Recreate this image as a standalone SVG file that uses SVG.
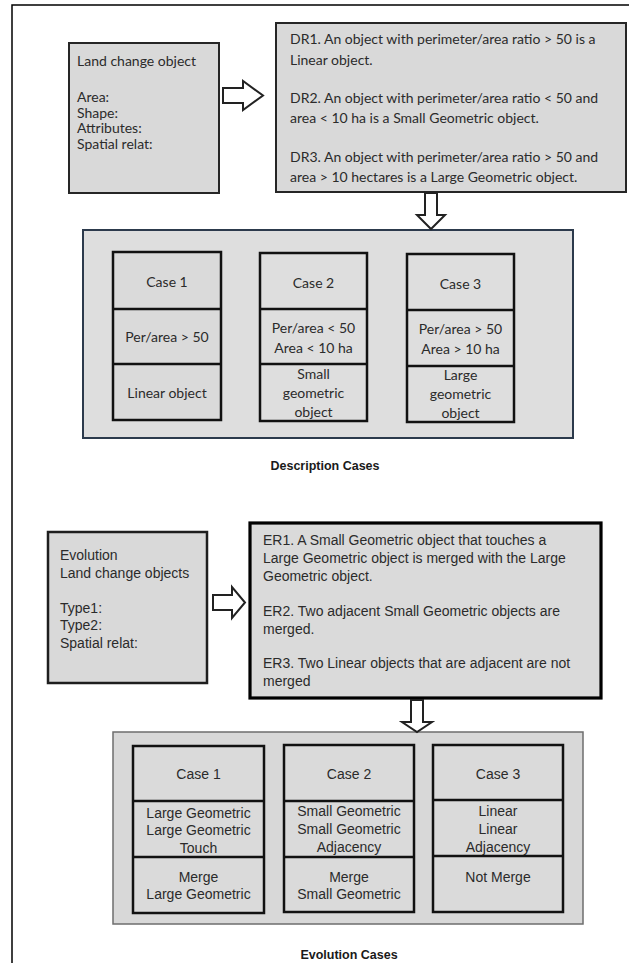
<svg xmlns="http://www.w3.org/2000/svg" width="629" height="963" viewBox="0 0 629 963">
<style>
.cal{font-family:Lato,"Open Sans","Liberation Sans",sans-serif;font-size:14px;fill:#2b2b2b}
.ar{font-family:"Liberation Sans",Arial,sans-serif;font-size:14px;fill:#2b2b2b}
.mid{text-anchor:middle}
.cap{font-family:"Liberation Sans",Arial,sans-serif;font-weight:bold;font-size:12.5px;fill:#1a1a1a;text-anchor:middle}
.box{fill:#d9d9d9;stroke:#262626;stroke-width:2}
.cbox{fill:#dadada;stroke:#111;stroke-width:2.5}
.div{stroke:#111;stroke-width:2.5}
.arrow{fill:#fff;stroke:#222;stroke-width:2;stroke-linejoin:miter}
</style>
<rect x="0" y="0" width="629" height="963" fill="#fff"/>
<path d="M12,963 V5 H629" fill="none" stroke="#000" stroke-width="1.5"/>

<g id="land-change-object">
<rect class="box" x="69" y="43" width="150" height="150"/>
<text class="cal" x="77" y="66">Land change object</text>
<text class="cal" x="77" y="102">Area:</text>
<text class="cal" x="77" y="117.5">Shape:</text>
<text class="cal" x="77" y="133">Attributes:</text>
<text class="cal" x="77" y="148.5">Spatial relat:</text>
</g>

<g id="description-rules">
<rect class="box" x="276" y="23" width="350" height="169"/>
<text class="cal" x="290" y="44">DR1. An object with perimeter/area ratio &gt; 50 is a</text>
<text class="cal" x="290" y="65">Linear object.</text>
<text class="cal" x="290" y="103">DR2. An object with perimeter/area ratio &lt;  50 and</text>
<text class="cal" x="290" y="123">area &lt; 10 ha is a Small Geometric object.</text>
<text class="cal" x="290" y="162">DR3. An object with perimeter/area ratio &gt; 50 and</text>
<text class="cal" x="290" y="182">area &gt; 10 hectares is a Large Geometric object.</text>
</g>

<g id="description-cases">
<rect x="83" y="230" width="490" height="208" fill="#dedede" stroke="#2c3a4c" stroke-width="2"/>
<g id="dcase1">
<rect class="cbox" x="113" y="252" width="108" height="168"/>
<line class="div" x1="113" y1="309" x2="221" y2="309"/>
<line class="div" x1="113" y1="364" x2="221" y2="364"/>
<text class="cal mid" x="167" y="287">Case 1</text>
<text class="cal mid" x="167" y="342">Per/area &gt; 50</text>
<text class="cal mid" x="167" y="398">Linear object</text>
</g>
<g id="dcase2">
<text class="cal mid" x="313.5" y="288">Case 2</text>
<text class="cal mid" x="313.5" y="333">Per/area &lt; 50</text>
<text class="cal mid" x="313.5" y="353">Area &lt; 10 ha</text>
<text class="cal mid" x="313.5" y="379">Small</text>
<text class="cal mid" x="313.5" y="398">geometric</text>
<text class="cal mid" x="313.5" y="417">object</text>
<rect class="cbox" x="260" y="253" width="107" height="168" fill="none" style="fill:none"/>
<line class="div" x1="260" y1="309" x2="367" y2="309"/>
<line class="div" x1="260" y1="364" x2="367" y2="364"/>
</g>
<g id="dcase3">
<text class="cal mid" x="460.5" y="289">Case 3</text>
<text class="cal mid" x="460.5" y="334">Per/area &gt; 50</text>
<text class="cal mid" x="460.5" y="354">Area &gt; 10 ha</text>
<text class="cal mid" x="460.5" y="380">Large</text>
<text class="cal mid" x="460.5" y="399">geometric</text>
<text class="cal mid" x="460.5" y="418">object</text>
<rect class="cbox" x="407" y="254" width="107" height="168" style="fill:none"/>
<line class="div" x1="407" y1="310" x2="514" y2="310"/>
<line class="div" x1="407" y1="366" x2="514" y2="366"/>
</g>
</g>
<text class="cap" x="325" y="470">Description Cases</text>

<g id="evolution-objects">
<rect x="48" y="532" width="159" height="151" fill="#d9d9d9" stroke="#1e1e1e" stroke-width="2.5"/>
<text class="ar" x="60" y="560">Evolution</text>
<text class="ar" x="60" y="577.5">Land change objects</text>
<text class="ar" x="60" y="612.5">Type1:</text>
<text class="ar" x="60" y="630">Type2:</text>
<text class="ar" x="60" y="647.5">Spatial relat:</text>
</g>

<g id="evolution-rules">
<rect x="250" y="523" width="351" height="175" fill="#dadada" stroke="#000" stroke-width="3.2"/>
<text class="ar" x="263" y="545">ER1. A Small Geometric object that touches a</text>
<text class="ar" x="263" y="563">Large Geometric object is merged with the Large</text>
<text class="ar" x="263" y="581">Geometric object.</text>
<text class="ar" x="263" y="616">ER2. Two adjacent Small Geometric objects are</text>
<text class="ar" x="263" y="634">merged.</text>
<text class="ar" x="263" y="668">ER3. Two Linear objects that are adjacent are not</text>
<text class="ar" x="263" y="686">merged</text>
</g>

<g id="evolution-cases">
<rect x="113" y="732" width="470" height="192" fill="#d8d8d8" stroke="#6e6e6e" stroke-width="1.5"/>
<g id="ecase1">
<rect class="cbox" x="133" y="746" width="131" height="167"/>
<line class="div" x1="133" y1="801" x2="264" y2="801"/>
<line class="div" x1="133" y1="857" x2="264" y2="857"/>
<text class="ar mid" x="198.5" y="779">Case 1</text>
<text class="ar mid" x="198.5" y="818">Large Geometric</text>
<text class="ar mid" x="198.5" y="835">Large Geometric</text>
<text class="ar mid" x="198.5" y="852.5">Touch</text>
<text class="ar mid" x="198.5" y="882">Merge</text>
<text class="ar mid" x="198.5" y="899">Large Geometric</text>
</g>
<g id="ecase2">
<rect class="cbox" x="284" y="745" width="130" height="167"/>
<line class="div" x1="284" y1="801" x2="414" y2="801"/>
<line class="div" x1="284" y1="857" x2="414" y2="857"/>
<text class="ar mid" x="349" y="779">Case 2</text>
<text class="ar mid" x="349" y="816">Small Geometric</text>
<text class="ar mid" x="349" y="834">Small Geometric</text>
<text class="ar mid" x="349" y="852">Adjacency</text>
<text class="ar mid" x="349" y="882">Merge</text>
<text class="ar mid" x="349" y="899">Small Geometric</text>
</g>
<g id="ecase3">
<rect class="cbox" x="433" y="745" width="130" height="167"/>
<line class="div" x1="433" y1="800" x2="563" y2="800"/>
<line class="div" x1="433" y1="856" x2="563" y2="856"/>
<text class="ar mid" x="498" y="779">Case 3</text>
<text class="ar mid" x="498" y="816">Linear</text>
<text class="ar mid" x="498" y="834">Linear</text>
<text class="ar mid" x="498" y="852">Adjacency</text>
<text class="ar mid" x="498" y="882">Not Merge</text>
</g>
</g>
<text class="cap" x="349" y="959">Evolution Cases</text>

<g id="connectors">
<polygon class="arrow" points="223,88 243,88 243,81 263,95.5 243,110 243,103 223,103"/>
<polygon class="arrow" points="425,193 437,193 437,215 445,215 431,229 417,215 425,215"/>
<polygon class="arrow" points="213,595 232,595 232,587 245,602.5 232,618 232,610 213,610"/>
<polygon class="arrow" points="411,700 423,700 423,722 432,722 417,732 402,722 411,722"/>
</g>
</svg>
